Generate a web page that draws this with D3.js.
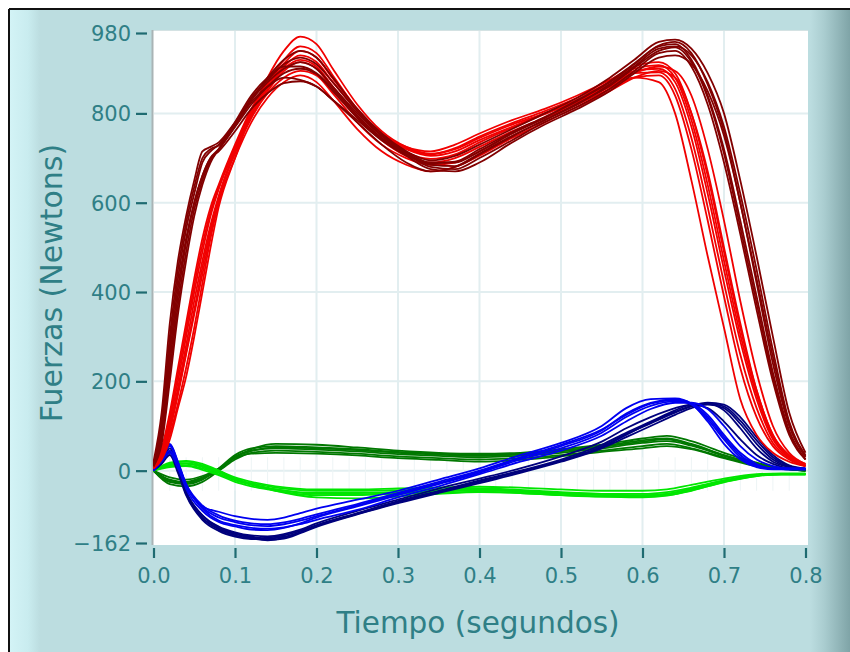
<!DOCTYPE html>
<meta charset="utf-8">
<style>
body { margin: 0; background: #fff; }
text { font-family: "DejaVu Sans", Verdana, sans-serif; fill: #2f7f86; }
</style>
<script src="https://cdnjs.cloudflare.com/ajax/libs/d3/7.8.5/d3.min.js"></script>
<body>
<script>
// time grids (s)
const tRed = [0, 0.01, 0.02, 0.03, 0.04, 0.05, 0.06, 0.07, 0.08, 0.10, 0.12, 0.14, 0.16, 0.18, 0.20, 0.22, 0.25, 0.28, 0.31, 0.34, 0.37, 0.40, 0.44, 0.48, 0.52, 0.56, 0.59, 0.62, 0.64, 0.66, 0.68, 0.70, 0.72, 0.74, 0.76, 0.78, 0.80];
const tBlue = [0, 0.01, 0.02, 0.03, 0.04, 0.06, 0.08, 0.10, 0.12, 0.14, 0.16, 0.18, 0.20, 0.25, 0.30, 0.35, 0.40, 0.45, 0.50, 0.55, 0.58, 0.61, 0.64, 0.66, 0.68, 0.70, 0.72, 0.74, 0.76, 0.78, 0.80];
const tGreen = [0, 0.02, 0.04, 0.06, 0.08, 0.10, 0.12, 0.15, 0.20, 0.25, 0.30, 0.35, 0.40, 0.45, 0.50, 0.55, 0.60, 0.63, 0.66, 0.70, 0.74, 0.77, 0.80];

// vertical force, dark red trials
const redDark = [
  [20, 130, 330, 470, 570, 650, 715, 725, 735, 780, 830, 870, 900, 915, 900, 860, 800, 750, 715, 695, 705, 730, 765, 800, 835, 880, 920, 960, 965, 945, 890, 800, 650, 480, 300, 130, 40],
  [15, 100, 280, 430, 540, 620, 690, 715, 730, 775, 825, 860, 880, 875, 860, 830, 780, 730, 690, 670, 680, 710, 750, 785, 820, 865, 905, 945, 950, 930, 870, 770, 620, 450, 270, 110, 35],
  [10, 80, 240, 390, 510, 600, 660, 700, 720, 770, 830, 880, 920, 940, 925, 880, 810, 755, 715, 690, 690, 715, 755, 790, 830, 870, 910, 950, 955, 920, 840, 720, 560, 390, 220, 90, 25],
  [10, 60, 200, 350, 470, 570, 640, 690, 720, 780, 840, 880, 905, 905, 890, 855, 795, 745, 710, 680, 675, 700, 740, 780, 815, 855, 895, 935, 940, 905, 820, 690, 530, 360, 200, 80, 25],
  [15, 90, 260, 410, 520, 600, 660, 700, 715, 760, 810, 845, 868, 872, 860, 830, 785, 740, 705, 675, 670, 690, 735, 775, 810, 850, 890, 925, 930, 910, 850, 750, 600, 420, 240, 100, 30],
  [12, 110, 300, 450, 555, 635, 700, 720, 728, 770, 820, 860, 890, 900, 888, 850, 790, 742, 708, 688, 692, 720, 758, 792, 828, 872, 912, 952, 960, 935, 865, 760, 600, 430, 255, 105, 32],
  [10, 70, 220, 370, 490, 585, 650, 695, 718, 775, 835, 875, 910, 925, 910, 870, 805, 750, 712, 685, 682, 708, 748, 785, 822, 862, 902, 940, 948, 915, 835, 710, 545, 375, 210, 85, 25]
];
// vertical force, bright red trials
const redBright = [
  [5, 25, 70, 140, 210, 300, 400, 500, 590, 700, 800, 880, 940, 972, 955, 900, 820, 760, 725, 710, 720, 745, 775, 800, 830, 860, 880, 870, 800, 650, 480, 320, 160, 80, 40, 20, 10],
  [5, 30, 90, 170, 260, 350, 440, 530, 610, 710, 790, 850, 895, 915, 900, 855, 790, 740, 705, 690, 700, 725, 760, 790, 820, 855, 880, 885, 840, 720, 560, 390, 230, 120, 55, 25, 10],
  [8, 40, 110, 200, 300, 400, 490, 570, 630, 720, 800, 860, 905, 930, 915, 870, 805, 750, 720, 705, 715, 740, 770, 800, 830, 865, 895, 900, 870, 770, 620, 450, 290, 160, 70, 30, 12],
  [5, 30, 80, 150, 230, 320, 420, 520, 600, 700, 780, 835, 870, 885, 870, 830, 765, 715, 685, 670, 680, 705, 745, 780, 815, 850, 880, 895, 880, 800, 670, 500, 330, 180, 80, 30, 10],
  [10, 50, 130, 230, 330, 430, 520, 590, 640, 730, 810, 870, 920, 950, 935, 885, 810, 755, 725, 715, 730, 755, 785, 810, 840, 875, 905, 915, 890, 800, 660, 490, 320, 180, 80, 35, 15],
  [5, 35, 100, 185, 280, 380, 470, 550, 615, 715, 790, 845, 880, 895, 885, 845, 780, 730, 700, 685, 690, 715, 755, 790, 825, 860, 890, 905, 895, 840, 720, 560, 380, 220, 100, 40, 15],
  [6, 35, 95, 175, 265, 360, 455, 540, 610, 715, 795, 855, 900, 920, 905, 860, 795, 745, 712, 698, 708, 735, 768, 798, 828, 862, 890, 892, 855, 745, 590, 420, 260, 140, 62, 28, 11],
  [8, 45, 120, 215, 315, 415, 505, 580, 635, 725, 805, 865, 912, 940, 925, 878, 808, 752, 722, 708, 722, 748, 778, 805, 835, 870, 900, 908, 880, 785, 640, 470, 305, 170, 75, 32, 13]
];
// antero-posterior force, blue trials
const blueBright = [
  [0, 30, 60, 20, -30, -80, -92, -102, -108, -110, -105, -95, -85, -65, -45, -20, 5, 35, 62, 100, 140, 160, 162, 150, 110, 60, 25, 8, 3, 3, 3],
  [0, 25, 45, 10, -40, -90, -115, -125, -132, -133, -128, -118, -105, -80, -55, -30, -5, 25, 50, 85, 120, 145, 155, 150, 125, 80, 40, 15, 5, 5, 5],
  [0, 20, 40, 5, -35, -85, -112, -122, -128, -130, -127, -120, -110, -88, -60, -35, -8, 20, 45, 78, 110, 138, 152, 152, 138, 100, 55, 25, 10, 5, 5],
  [0, 25, 55, 15, -30, -78, -100, -112, -118, -120, -116, -108, -98, -75, -50, -25, 0, 30, 58, 92, 125, 150, 158, 148, 115, 70, 30, 10, 5, 3, 3],
  [0, 28, 58, 18, -32, -82, -105, -115, -122, -124, -120, -112, -102, -78, -52, -28, -2, 28, 55, 90, 128, 152, 160, 150, 120, 75, 35, 12, 5, 3, 3]
];
const blueDark = [
  [0, 20, 40, 0, -50, -105, -130, -142, -150, -155, -152, -140, -126, -98, -73, -50, -28, -5, 20, 50, 75, 100, 125, 140, 148, 140, 105, 60, 25, 8, 3],
  [0, 15, 35, -5, -55, -110, -135, -148, -153, -150, -145, -135, -122, -95, -68, -45, -22, 0, 25, 58, 85, 110, 135, 148, 150, 135, 95, 50, 20, 8, 3],
  [0, 25, 50, 10, -45, -100, -125, -138, -145, -147, -142, -132, -118, -90, -65, -40, -18, 5, 32, 65, 95, 120, 140, 148, 140, 110, 70, 35, 15, 5, 3],
  [0, 20, 45, 5, -50, -100, -128, -140, -148, -152, -148, -138, -124, -96, -70, -48, -25, -2, 22, 52, 80, 108, 132, 145, 152, 148, 120, 75, 35, 12, 5],
  [0, 18, 42, 2, -52, -106, -132, -145, -152, -156, -150, -138, -124, -97, -71, -47, -24, -2, 22, 54, 82, 106, 130, 144, 150, 144, 112, 68, 30, 10, 4]
];
// medio-lateral force, green trials
const greenDark = [
  [0, -25, -30, -20, 5, 35, 50, 55, 52, 48, 42, 38, 35, 38, 45, 55, 68, 72, 60, 35, 15, 5, 0],
  [0, -20, -25, -15, 0, 25, 40, 45, 42, 38, 32, 28, 25, 28, 35, 45, 55, 60, 50, 30, 12, 5, 0],
  [0, -30, -35, -25, 0, 30, 48, 60, 58, 52, 45, 40, 38, 40, 48, 58, 72, 78, 66, 40, 18, 6, 0],
  [0, -15, -20, -12, 5, 28, 38, 40, 38, 34, 28, 24, 20, 24, 32, 42, 50, 55, 48, 28, 10, 4, 0],
  [0, -25, -28, -18, 3, 32, 45, 50, 47, 43, 37, 33, 30, 33, 40, 50, 62, 66, 56, 33, 14, 5, 0],
  [0, -22, -27, -17, 2, 30, 44, 52, 50, 46, 40, 36, 33, 36, 43, 53, 65, 70, 58, 34, 14, 5, 0]
];
const greenLight = [
  [0, 15, 20, 12, 0, -15, -25, -35, -42, -42, -40, -38, -36, -38, -42, -45, -45, -42, -32, -18, -8, -6, -6],
  [0, 10, 12, 5, -8, -22, -32, -42, -50, -50, -48, -45, -42, -45, -50, -52, -52, -48, -38, -22, -10, -8, -8],
  [0, 18, 22, 15, 0, -18, -30, -45, -60, -62, -58, -52, -48, -50, -55, -58, -58, -55, -45, -25, -12, -8, -8],
  [0, 8, 10, 2, -10, -25, -35, -45, -55, -55, -52, -50, -47, -50, -55, -58, -60, -56, -44, -26, -12, -8, -8],
  [0, 12, 15, 8, -5, -20, -28, -38, -45, -45, -44, -42, -40, -43, -48, -52, -55, -52, -40, -22, -10, -7, -7],
  [0, 14, 17, 10, -3, -18, -30, -42, -52, -53, -50, -47, -44, -47, -52, -55, -56, -52, -42, -24, -11, -8, -8]
];

const yTicks = [980, 800, 600, 400, 200, 0, -162];
const xTicks = [0, 0.1, 0.2, 0.3, 0.4, 0.5, 0.6, 0.7, 0.8];

const W = 850, H = 652;
const svg = d3.select('body').append('svg')
  .attr('width', W).attr('height', H);

const defs = svg.append('defs');
const gl = defs.append('linearGradient').attr('id', 'leftStrip');
gl.append('stop').attr('offset', '0%').attr('stop-color', '#d3f3f6');
gl.append('stop').attr('offset', '60%').attr('stop-color', '#c9ecef');
gl.append('stop').attr('offset', '100%').attr('stop-color', '#bcdde0');
const gr = defs.append('linearGradient').attr('id', 'rightStrip');
gr.append('stop').attr('offset', '0%').attr('stop-color', '#bcdde0');
gr.append('stop').attr('offset', '35%').attr('stop-color', '#aacdd0');
gr.append('stop').attr('offset', '100%').attr('stop-color', '#7fa4a7');

// panel
svg.append('rect').attr('x', 9).attr('y', 9).attr('width', W).attr('height', H)
  .attr('fill', '#bcdde0');
svg.append('rect').attr('x', 10).attr('y', 10).attr('width', 30).attr('height', H)
  .attr('fill', 'url(#leftStrip)');
svg.append('rect').attr('x', 810).attr('y', 10).attr('width', 40).attr('height', H)
  .attr('fill', 'url(#rightStrip)');
svg.append('line').attr('x1', 9).attr('x2', W).attr('y1', 9).attr('y2', 9)
  .attr('stroke', '#111').attr('stroke-width', 2);
svg.append('line').attr('x1', 9).attr('x2', 9).attr('y1', 9).attr('y2', H)
  .attr('stroke', '#111').attr('stroke-width', 2);

const x = d3.scaleLinear().domain([0, 0.8]).range([153.5, 805.5]);
const y = d3.scaleLinear().domain([-162, 980]).range([543, 33]);

// plot area
svg.append('rect').attr('x', 152).attr('y', 30).attr('width', 656).attr('height', 515)
  .attr('fill', '#fff');
svg.append('line').attr('x1', 152).attr('x2', 808).attr('y1', 30.5).attr('y2', 30.5)
  .attr('stroke', '#d4e2e3').attr('stroke-width', 1);
svg.append('line').attr('x1', 152.5).attr('x2', 152.5).attr('y1', 30).attr('y2', 545)
  .attr('stroke', '#a9b4b5').attr('stroke-width', 2);

// grid
const grid = svg.append('g').attr('stroke', '#e2eef0').attr('stroke-width', 2);
grid.selectAll('.gx').data(xTicks.slice(1, -1)).join('line')
  .attr('x1', d => x(d)).attr('x2', d => x(d)).attr('y1', 31).attr('y2', 545);
grid.selectAll('.gy').data([800, 600, 400, 200, 0]).join('line')
  .attr('x1', 154).attr('x2', 808).attr('y1', d => y(d)).attr('y2', d => y(d));
svg.append('g').attr('stroke', '#edf4f5').attr('stroke-width', 1)
  .selectAll('line').data(d3.range(1, 40).map(i => i * 0.02)).join('line')
  .attr('x1', d => x(d)).attr('x2', d => x(d)).attr('y1', y(30)).attr('y2', y(-45));

// axes
const yAxis = svg.append('g').attr('transform', 'translate(147,0)')
  .call(d3.axisLeft(y).tickValues(yTicks).tickSize(11).tickPadding(5).tickFormat(d3.format('d')));
const xAxis = svg.append('g').attr('transform', 'translate(0,547)')
  .call(d3.axisBottom(x).tickValues(xTicks).tickSize(11).tickPadding(10).tickFormat(d3.format('.1f')));
[yAxis, xAxis].forEach(a => {
  a.select('.domain').remove();
  a.selectAll('.tick line').attr('stroke', '#1f6b71').attr('stroke-width', 2.2);
  a.selectAll('.tick text').attr('fill', '#2f7f86').style('font-size', '21px')
    .style('font-family', '"DejaVu Sans", Verdana, sans-serif');
});
yAxis.selectAll('.tick text').attr('dy', '0.36em');
xAxis.selectAll('.tick line').attr('y1', 1);

svg.append('text').attr('x', 478).attr('y', 633).attr('text-anchor', 'middle')
  .style('font-size', '29.5px').text('Tiempo (segundos)');
svg.append('text').attr('transform', 'translate(62,283) rotate(-90)').attr('text-anchor', 'middle')
  .style('font-size', '30px').text('Fuerzas (Newtons)');

// curves
const clip = defs.append('clipPath').attr('id', 'plotClip');
clip.append('rect').attr('x', 153).attr('y', 30).attr('width', 655).attr('height', 515);
const plot = svg.append('g').attr('clip-path', 'url(#plotClip)');

function drawSet(times, set, color) {
  const line = d3.line().x((d, i) => x(times[i])).y(d => y(d)).curve(d3.curveMonotoneX);
  plot.append('g').selectAll('path').data(set).join('path')
    .attr('d', line).attr('fill', 'none').attr('stroke', color)
    .attr('stroke-width', 1.8).attr('stroke-linejoin', 'round');
}
drawSet(tGreen, greenDark, '#007800');
drawSet(tGreen, greenLight, '#00e600');
drawSet(tBlue, blueDark, '#00007d');
drawSet(tBlue, blueBright, '#0000f0');
drawSet(tRed, redBright, '#f00000');
drawSet(tRed, redDark, '#820000');
</script>
</body>
</html>
